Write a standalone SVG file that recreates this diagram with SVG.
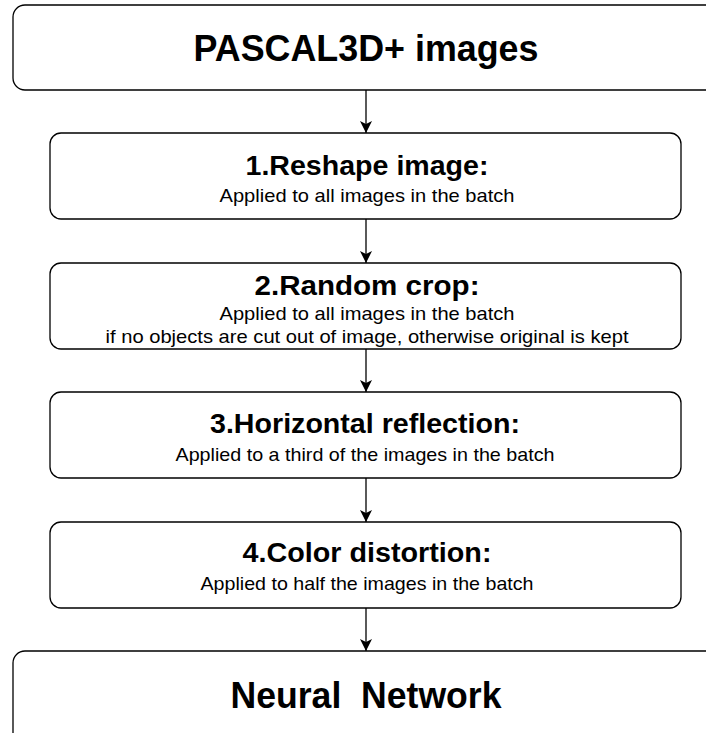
<svg xmlns="http://www.w3.org/2000/svg" width="706" height="733" viewBox="0 0 706 733">
<style>
.box{fill:#fff;stroke:#000;stroke-width:1.3}
.big{font-family:"Liberation Sans",Arial,sans-serif;font-weight:bold;font-size:37px;text-anchor:middle;fill:#000;white-space:pre}
.ttl{font-family:"Liberation Sans",Arial,sans-serif;font-weight:bold;font-size:27.5px;text-anchor:middle;fill:#000}
.sub{font-family:"Liberation Sans",Arial,sans-serif;font-size:19px;text-anchor:middle;fill:#000}
.conn{stroke:#000;stroke-width:1.3;fill:none;marker-end:url(#arr)}
</style>
<defs>
<marker id="arr" viewBox="0 0 12 12" refX="12" refY="6" markerWidth="12" markerHeight="12" markerUnits="userSpaceOnUse" orient="auto">
<path d="M0,0 L12,6 L0,12 L3,6 z" fill="#000"/>
</marker>
</defs>
<rect width="706" height="733" fill="#fff"/>
<g id="connectors">
<line class="conn" x1="366" y1="90" x2="366" y2="133"/>
<line class="conn" x1="366" y1="219" x2="366" y2="263"/>
<line class="conn" x1="366" y1="349" x2="366" y2="392"/>
<line class="conn" x1="366" y1="478" x2="366" y2="522"/>
<line class="conn" x1="366" y1="608" x2="366" y2="651"/>
</g>
<g id="pascal">
<rect class="box" x="13" y="5" width="710" height="85" rx="12"/>
<text class="big" x="366" y="61" textLength="345" lengthAdjust="spacingAndGlyphs">PASCAL3D+ images</text>
</g>
<g id="reshape">
<rect class="box" x="50" y="133" width="631" height="86" rx="11"/>
<text class="ttl" x="367" y="175" textLength="243" lengthAdjust="spacingAndGlyphs">1.Reshape image:</text>
<text class="sub" x="367" y="202" textLength="295" lengthAdjust="spacingAndGlyphs">Applied to all images in the batch</text>
</g>
<g id="crop">
<rect class="box" x="50" y="263" width="631" height="86" rx="11"/>
<text class="ttl" x="367" y="295" textLength="225" lengthAdjust="spacingAndGlyphs">2.Random crop:</text>
<text class="sub" x="367" y="320" textLength="295" lengthAdjust="spacingAndGlyphs">Applied to all images in the batch</text>
<text class="sub" x="367" y="343" textLength="523" lengthAdjust="spacingAndGlyphs">if no objects are cut out of image, otherwise original is kept</text>
</g>
<g id="reflection">
<rect class="box" x="50" y="392" width="631" height="86" rx="11"/>
<text class="ttl" x="365" y="433" textLength="310" lengthAdjust="spacingAndGlyphs">3.Horizontal reflection:</text>
<text class="sub" x="365" y="461" textLength="379" lengthAdjust="spacingAndGlyphs">Applied to a third of the images in the batch</text>
</g>
<g id="color">
<rect class="box" x="50" y="522" width="631" height="86" rx="11"/>
<text class="ttl" x="367" y="562" textLength="249" lengthAdjust="spacingAndGlyphs">4.Color distortion:</text>
<text class="sub" x="367" y="590" textLength="333" lengthAdjust="spacingAndGlyphs">Applied to half the images in the batch</text>
</g>
<g id="network">
<rect class="box" x="13" y="651" width="710" height="100" rx="12"/>
<text class="big" x="366" y="708" textLength="271" lengthAdjust="spacingAndGlyphs">Neural  Network</text>
</g>
</svg>
